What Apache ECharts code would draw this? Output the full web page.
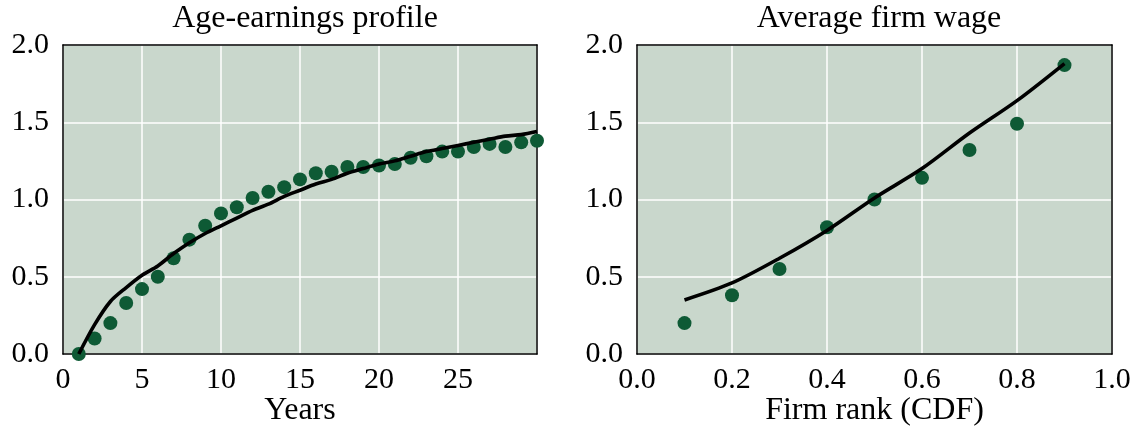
<!DOCTYPE html>
<html>
<head>
<meta charset="utf-8">
<script src="https://cdn.jsdelivr.net/npm/echarts@6/dist/echarts.min.js"></script>
<style>
html,body{margin:0;padding:0;background:#fff;}
#chart{width:1140px;height:432px;}
</style>
</head>
<body>
<div id="chart"></div>
<script>
// ---- Data ----
var years = [1,2,3,4,5,6,7,8,9,10,11,12,13,14,15,16,17,18,19,20,21,22,23,24,25,26,27,28,29,30];
var ageDots = [0.00,0.10,0.20,0.33,0.42,0.50,0.62,0.74,0.83,0.91,0.95,1.01,1.05,1.08,1.13,1.17,1.18,1.21,1.21,1.22,1.23,1.27,1.28,1.31,1.31,1.34,1.36,1.34,1.37,1.38];
var ageLine = [0.00,0.19,0.34,0.43,0.51,0.57,0.65,0.72,0.78,0.83,0.88,0.93,0.97,1.02,1.06,1.10,1.13,1.17,1.20,1.23,1.25,1.28,1.31,1.33,1.35,1.37,1.39,1.41,1.42,1.44];
var firmRank = [0.1,0.2,0.3,0.4,0.5,0.6,0.7,0.8,0.9];
var firmDots = [0.20,0.38,0.55,0.82,1.00,1.14,1.32,1.49,1.87];
var firmLine = [0.35,0.46,0.62,0.80,1.01,1.20,1.43,1.64,1.88];
var leftXTicks = [0,5,10,15,20,25];
var yTicks = [0.0,0.5,1.0,1.5,2.0];
var titles = ['Age-earnings profile','Average firm wage'];
var xNames = ['Years','Firm rank (CDF)'];

function zip(xs, ys){ return xs.map(function(x,i){ return [x, ys[i]]; }); }

var FONT = 'Liberation Serif';
var FS = 30;   // tick labels
var FT = 32;   // titles and axis names
var DOT = '#0e5a35';
var BG = '#c9d7cc';

function frameAxis(pos, idx, min, max){
  return {
    type:'value', gridIndex: idx, position: pos, min:min, max:max,
    axisLine:{show:true, onZero:false, lineStyle:{color:'#000', width:1.5}},
    axisTick:{show:false}, axisLabel:{show:false}, splitLine:{show:false}
  };
}

var chart = echarts.init(document.getElementById('chart'));
var option = {
  animation:false,
  backgroundColor:'#fff',
  title:[
    {text:titles[0], left:300, top:-2, textAlign:'center', textStyle:{fontFamily:FONT, fontSize:FT, fontWeight:'normal', color:'#000'}},
    {text:titles[1], left:874, top:-2, textAlign:'center', textStyle:{fontFamily:FONT, fontSize:FT, fontWeight:'normal', color:'#000'}}
  ],
  grid:[
    {left:63, top:45, width:474, height:309, show:true, backgroundColor:BG, borderWidth:0, containLabel:false, outerBoundsMode:'none'},
    {left:637, top:45, width:475, height:309, show:true, backgroundColor:BG, borderWidth:0, containLabel:false, outerBoundsMode:'none'}
  ],
  xAxis:[
    {type:'value', gridIndex:0, min:0, max:30, interval:5,
     name:xNames[0], nameLocation:'middle', nameGap:41, nameMoveOverlap:false,
     nameTextStyle:{fontFamily:FONT, fontSize:FT, color:'#000'},
     axisLine:{show:true, onZero:false, lineStyle:{color:'#000', width:1.5}},
     axisTick:{show:false},
     axisLabel:{fontFamily:FONT, fontSize:FS, color:'#000', margin:11,
       formatter:function(v){ return leftXTicks.indexOf(v) >= 0 ? String(v) : ''; }},
     splitLine:{show:true, lineStyle:{color:'#ffffff', width:1.5}}},
    {type:'value', gridIndex:1, min:0, max:1, interval:0.2,
     name:xNames[1], nameLocation:'middle', nameGap:41, nameMoveOverlap:false,
     nameTextStyle:{fontFamily:FONT, fontSize:FT, color:'#000'},
     axisLine:{show:true, onZero:false, lineStyle:{color:'#000', width:1.5}},
     axisTick:{show:false},
     axisLabel:{fontFamily:FONT, fontSize:FS, color:'#000', margin:11,
       formatter:function(v){ return v.toFixed(1); }},
     splitLine:{show:true, lineStyle:{color:'#ffffff', width:1.5}}},
    frameAxis('top', 0, 0, 30),
    frameAxis('top', 1, 0, 1)
  ],
  yAxis:[
    {type:'value', gridIndex:0, min:0, max:2, interval:0.5,
     axisLine:{show:true, onZero:false, lineStyle:{color:'#000', width:1.5}},
     axisTick:{show:false},
     axisLabel:{fontFamily:FONT, fontSize:FS, color:'#000', margin:14,
       formatter:function(v){ return v.toFixed(1); }},
     splitLine:{show:true, lineStyle:{color:'#ffffff', width:1.5}}},
    {type:'value', gridIndex:1, min:0, max:2, interval:0.5,
     axisLine:{show:true, onZero:false, lineStyle:{color:'#000', width:1.5}},
     axisTick:{show:false},
     axisLabel:{fontFamily:FONT, fontSize:FS, color:'#000', margin:14,
       formatter:function(v){ return v.toFixed(1); }},
     splitLine:{show:true, lineStyle:{color:'#ffffff', width:1.5}}},
    frameAxis('right', 0, 0, 2),
    frameAxis('right', 1, 0, 2)
  ],
  series:[
    {type:'scatter', xAxisIndex:0, yAxisIndex:0, data:zip(years, ageDots), symbolSize:14,
     itemStyle:{color:DOT, opacity:1}, clip:false, z:3},
    {type:'line', xAxisIndex:0, yAxisIndex:0, data:zip(years, ageLine), smooth:0.3, showSymbol:false,
     lineStyle:{color:'#000', width:3.6}, clip:false, z:4},
    {type:'scatter', xAxisIndex:1, yAxisIndex:1, data:zip(firmRank, firmDots), symbolSize:14,
     itemStyle:{color:DOT, opacity:1}, clip:false, z:3},
    {type:'line', xAxisIndex:1, yAxisIndex:1, data:zip(firmRank, firmLine), smooth:0.3, showSymbol:false,
     lineStyle:{color:'#000', width:3.6}, clip:false, z:4}
  ]
};
chart.setOption(option);
</script>
</body>
</html>
